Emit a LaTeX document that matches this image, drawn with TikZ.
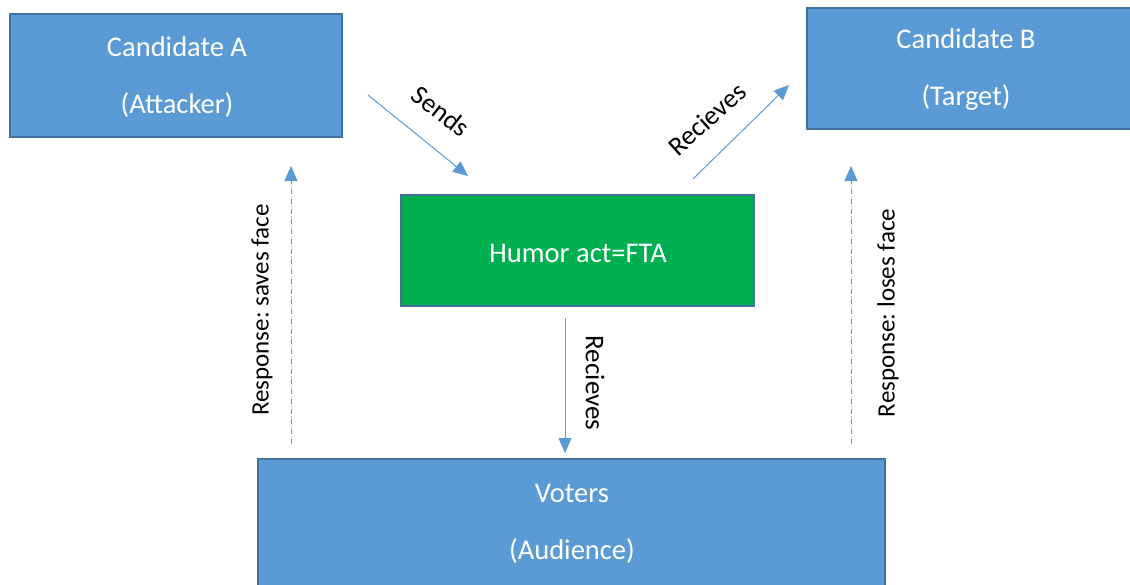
\documentclass[tikz,border=0pt]{standalone}
\usepackage{fontspec}
\setmainfont{Carlito}
\usetikzlibrary{arrows.meta}
\frenchspacing
\definecolor{boxblue}{HTML}{5B9BD5}
\definecolor{boxedge}{HTML}{41719C}
\definecolor{actgreen}{HTML}{00B050}
\definecolor{linkblue}{HTML}{5B9BD5}
\begin{document}
\begin{tikzpicture}[x=1pt,y=-1pt,
  party/.style={draw=boxedge,line width=1.6pt,fill=boxblue,text=white,
    inner sep=0pt,align=center,font=\fontsize{28.5}{57}\selectfont},
  actbox/.style={draw=boxedge,line width=1.6pt,fill=actgreen,text=white,
    inner sep=0pt,align=center,font=\fontsize{28.5}{33}\selectfont},
  flow/.style={draw=linkblue,line width=1pt,-{Triangle[length=15pt,width=13pt]}},
  reply/.style={flow,dash pattern=on 5pt off 2pt on 1pt off 2pt},
  tag/.style={inner sep=0pt,font=\fontsize{27}{30}\selectfont},
  sidetag/.style={inner sep=0pt,font=\fontsize{25}{30}\selectfont}]
\useasboundingbox (0,0) rectangle (1130,584);
\fill[white] (0,0) rectangle (1130,584);

% the four boxes
\node[party,minimum width=332pt,minimum height=123pt] (candA) at (176,75.5) {};
\node[party,draw=none,fill=none] (candAtext) at (177,77) {Candidate A\\(Attacker)};
\node[party,minimum width=324pt,minimum height=121pt] (candB) at (969,68.5) {};
\node[party,draw=none,fill=none] (candBtext) at (966,70) {Candidate B\\(Target)};
\node[actbox,minimum width=353pt,minimum height=111pt] (humor) at (577.5,250.5) {};
\node[actbox,draw=none,fill=none] (humortext) at (578,253) {Humor act=FTA};
\node[party,minimum width=627pt,minimum height=134pt] (voters) at (571.5,526) {};
\node[party,draw=none,fill=none] (voterstext) at (572,524) {Voters\\(Audience)};

% free ends of the connectors
\coordinate (sendfrom) at (368,95);
\coordinate (sendto) at (468,176);
\coordinate (recvfrom) at (693,179);
\coordinate (recvto) at (789,85);
\coordinate (downfrom) at (565,318);
\coordinate (downto) at (565,453);
\coordinate (leftfrom) at (291,444);
\coordinate (leftto) at (291,166);
\coordinate (rightfrom) at (851,444);
\coordinate (rightto) at (851,166);

% connectors
\draw[flow] (sendfrom) -- (sendto);
\draw[flow] (recvfrom) -- (recvto);
\draw[flow] (downfrom) -- (downto);
\draw[reply] (leftfrom) -- (leftto);
\draw[reply] (rightfrom) -- (rightto);

% connector labels
\node[tag,rotate=-38] (sendlbl) at (441,111) {Sends};
\node[tag,rotate=42] (recvlbl) at (707,119) {Recieves};
\node[tag,rotate=-90] (downlbl) at (595,383) {Recieves};
\node[sidetag,rotate=90] (leftlbl) at (262,310) {Response: saves face};
\node[sidetag,rotate=90] (rightlbl) at (888,313) {Response: loses face};
\end{tikzpicture}
\end{document}
